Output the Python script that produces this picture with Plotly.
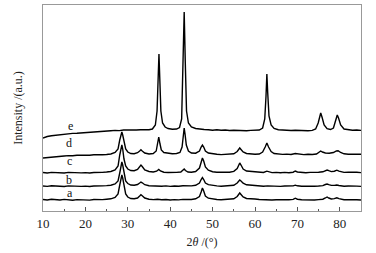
import plotly.graph_objects as go

# XRD patterns a-e, 2theta (deg) vs intensity (a.u., stacked offsets)
curve_a = [(10, 11.5), (11, 11), (12, 11.8), (13, 11.2), (14, 11), (15, 11.6), (16, 11.3), (17, 10.8),
           (18, 11.4), (19, 11), (20, 11.3), (21, 10.9), (22, 11.5), (23, 11.1), (24, 11.4), (25, 11.8),
           (26, 12.2), (27, 13.5), (27.7, 17), (28.1, 26), (28.4, 34), (28.6, 36), (28.8, 33), (29.1, 24),
           (29.5, 17), (30, 14), (30.7, 12.5), (31.5, 12.2), (32.3, 13), (32.8, 15), (33.1, 16.3),
           (33.4, 15.3), (34, 13), (35, 11.8), (36, 11.4), (37, 11.8), (38, 11.2), (39, 11.5), (40, 11),
           (41, 11.4), (42, 11.1), (43, 11.6), (44, 11.2), (45, 11.5), (46, 12.2), (46.9, 14.5), (47.3, 19),
           (47.6, 23), (47.9, 20), (48.3, 15), (49, 12.8), (50, 11.8), (51, 11.5), (52, 11.2), (53, 11.6),
           (54, 11.4), (55, 12.2), (55.8, 14.5), (56.2, 17), (56.4, 18), (56.7, 16.5), (57.2, 14), (58, 12.5),
           (59, 12.4), (59.5, 12.8), (60, 12), (61, 11.5), (62, 11.2), (63, 11.4), (64, 11), (65, 11.3),
           (66, 11), (67, 11.4), (68, 11.2), (69, 11.6), (69.5, 12.8), (70, 11.8), (71, 11.2), (72, 11),
           (73, 11.3), (74, 11), (75, 11.4), (76, 11.8), (76.6, 13), (77, 14), (77.4, 13), (78, 12),
           (78.7, 12.4), (79.3, 13.2), (79.8, 12.4), (80.5, 11.6), (81, 11.2), (82, 11.4), (83, 11),
           (84, 11.3), (85, 11)]

curve_b = [(10, 25), (11, 24.6), (12, 25.2), (13, 24.8), (14, 25), (15, 24.5), (16, 25.1), (17, 24.7),
           (18, 25), (19, 24.6), (20, 24.9), (21, 24.5), (22, 25), (23, 24.7), (24, 25.1), (25, 25.4),
           (26, 25.8), (27, 27), (27.7, 30), (28.1, 38), (28.4, 46), (28.6, 49), (28.8, 46), (29.1, 37),
           (29.5, 30), (30, 27.5), (30.7, 26), (31.5, 25.8), (32.3, 26.5), (32.8, 28), (33.1, 29),
           (33.4, 28.2), (34, 26.3), (35, 25.3), (36, 25), (37, 25.3), (38, 24.8), (39, 25.1), (40, 24.6),
           (41, 25), (42, 24.7), (43, 25.2), (44, 24.8), (45, 25.1), (46, 25.7), (46.9, 28), (47.3, 31.5),
           (47.6, 33.5), (47.9, 31.5), (48.3, 28), (49, 26.3), (50, 25.4), (51, 25.1), (52, 24.8), (53, 25.2),
           (54, 25), (55, 25.7), (55.8, 28), (56.2, 30.3), (56.4, 31), (56.7, 30), (57.2, 27.8), (58, 26.2),
           (59, 25.8), (60, 25.3), (61, 25), (62, 24.7), (63, 25.1), (64, 24.7), (65, 25), (66, 24.6),
           (67, 25), (68, 24.7), (69, 25.1), (69.5, 25.8), (70, 25.2), (71, 24.8), (72, 24.6), (73, 25),
           (74, 24.7), (75, 25), (76, 25.4), (76.6, 26.5), (77, 27), (77.4, 26.4), (78, 25.6), (78.7, 25.6),
           (79.3, 26), (79.8, 25.5), (80.5, 25), (81, 24.8), (82, 25), (83, 24.6), (84, 24.9), (85, 24.6)]

curve_c = [(10, 38.5), (11, 38), (12, 38.6), (13, 38.2), (14, 38.5), (15, 38), (16, 38.6), (17, 38.2),
           (18, 38.5), (19, 38.1), (20, 38.4), (21, 38), (22, 38.5), (23, 38.2), (24, 38.6), (25, 39),
           (26, 39.5), (27, 41), (27.7, 45), (28.1, 56), (28.4, 64), (28.6, 66), (28.8, 62), (29.1, 52),
           (29.5, 45), (30, 42), (30.7, 40.5), (31.5, 40.3), (32.3, 41.5), (32.8, 44), (33.1, 46),
           (33.4, 44.5), (34, 41), (35, 39.5), (36, 39), (36.8, 39.8), (37.3, 41.5), (37.7, 40), (38.5, 38.8),
           (39.5, 38.5), (40.5, 38.3), (41.5, 38.6), (42.5, 39), (43, 40.5), (43.3, 42), (43.6, 40.5),
           (44.2, 39), (45, 38.8), (46, 39.5), (46.9, 43), (47.3, 49), (47.6, 53), (47.9, 50), (48.3, 44),
           (49, 40.8), (50, 39.3), (51, 38.8), (52, 38.5), (53, 38.9), (54, 38.7), (55, 39.6), (55.8, 42.5),
           (56.2, 46.5), (56.4, 48), (56.7, 46), (57.2, 42), (58, 40), (59, 39.5), (59.5, 40), (60, 39.2),
           (61, 38.7), (62, 38.5), (62.8, 39.8), (63.4, 38.9), (64, 38.4), (65, 38.6), (66, 38.2), (67, 38.6),
           (68, 38.3), (69, 38.8), (69.5, 40), (70, 39), (71, 38.5), (72, 38.3), (73, 38.6), (74, 38.3),
           (75, 38.7), (76, 39.2), (76.6, 40.3), (77, 41), (77.4, 40.3), (78, 39.4), (78.7, 39.8),
           (79.3, 40.8), (79.8, 39.8), (80.5, 39), (81, 38.6), (82, 38.8), (83, 38.4), (84, 38.7), (85, 38.4)]

curve_d = [(10, 53), (11, 53.5), (12, 54.2), (13, 54), (14, 54.8), (15, 55), (16, 55.4), (17, 55.2),
           (18, 55.8), (19, 55.6), (20, 56), (21, 55.7), (22, 56.2), (23, 55.9), (24, 56.3), (25, 56.5),
           (26, 57), (27, 58.5), (27.7, 62), (28.1, 71), (28.4, 78), (28.6, 79), (28.8, 76), (29.1, 68),
           (29.5, 62), (30, 59), (30.7, 57.5), (31.5, 57.3), (32.3, 58.3), (32.8, 60), (33.1, 61.2),
           (33.4, 60), (34, 58), (35, 57), (36, 57.5), (36.7, 60), (37, 66), (37.3, 74), (37.6, 67),
           (37.9, 61), (38.5, 58.5), (39.5, 57.5), (40.5, 57.2), (41.5, 57.5), (42.3, 58.5), (42.8, 64),
           (43.1, 76), (43.3, 83), (43.5, 77), (43.8, 66), (44.3, 60), (45, 58), (46, 57.8), (46.9, 60),
           (47.3, 64), (47.6, 66), (47.9, 64), (48.3, 60), (49, 58), (50, 57), (51, 56.7), (52, 56.4),
           (53, 56.8), (54, 56.5), (55, 57.2), (55.8, 59.5), (56.2, 62), (56.4, 63), (56.7, 61.5), (57.2, 59),
           (58, 57.5), (59, 57), (60, 56.8), (61, 57), (61.8, 59), (62.4, 64), (62.8, 68), (63.2, 64),
           (63.8, 59.5), (64.5, 57.5), (65.5, 57), (66.5, 56.6), (67.5, 56.9), (68.5, 56.5), (69.5, 57.5),
           (70.5, 56.7), (71.5, 56.4), (72.5, 56.8), (73.5, 56.5), (74.5, 57), (75.1, 58.5), (75.5, 60),
           (75.9, 59), (76.6, 58), (77.5, 57.8), (78.5, 58.5), (79.2, 60), (79.6, 60.3), (80.2, 58.5),
           (81, 57.2), (82, 56.8), (83, 57), (84, 56.5), (85, 56.8)]

curve_e = [(10, 73), (10.5, 74), (11, 74.5), (12, 75.2), (13, 75.8), (14, 76), (15, 76.8), (16, 77),
           (17, 77.6), (18, 77.8), (19, 78.2), (20, 78.5), (21, 79), (22, 79.1), (23, 79.5), (24, 79.8),
           (25, 80), (26, 80.3), (27, 80.6), (28, 80.4), (29, 81), (30, 80.8), (31, 81.2), (32, 81),
           (33, 81.3), (34, 81), (35, 81.3), (35.8, 82), (36.5, 86), (36.9, 100), (37.2, 140), (37.35, 157),
           (37.5, 138), (37.8, 100), (38.2, 88), (38.8, 84), (39.5, 82.5), (40.5, 81.8), (41.5, 82),
           (42.2, 83.5), (42.7, 92), (43.0, 140), (43.3, 199), (43.55, 150), (43.85, 100), (44.3, 88),
           (45, 84), (46, 82.5), (47, 81.8), (48, 81.5), (49, 81.2), (50, 80.8), (51, 81.2), (52, 80.7),
           (53, 81), (54, 80.5), (55, 80.8), (56, 80.4), (57, 80.7), (58, 80.3), (59, 80.6), (60, 80.5),
           (61, 81), (61.8, 83), (62.3, 92), (62.6, 115), (62.8, 137), (63.0, 118), (63.3, 95), (63.8, 86),
           (64.5, 82.5), (65.5, 81.3), (66.5, 80.8), (67.5, 81), (68.5, 80.5), (69.5, 80.8), (70.5, 80.4),
           (71.5, 80.6), (72.5, 80.3), (73.5, 80.6), (74.3, 82), (74.9, 88), (75.3, 96), (75.5, 98),
           (75.8, 94), (76.3, 86), (77, 82.3), (77.8, 81.5), (78.5, 83), (79, 89), (79.4, 96), (79.7, 93),
           (80.2, 86), (81, 82), (82, 81), (83, 80.7), (84, 81), (85, 80.6)]

curve_names = ["a", "b", "c", "d", "e"]
# label positions (2theta, intensity)
label_x = [16.4, 16.2, 16.2, 16.2, 16.4]
label_y = [18, 31, 50, 68, 85]

SERIF = "Liberation Serif"

fig = go.Figure()
for name, pts in zip(curve_names, [curve_a, curve_b, curve_c, curve_d, curve_e]):
    xs, ys = zip(*pts)
    fig.add_trace(go.Scatter(x=xs, y=ys, mode="lines", name=name,
                             line=dict(color="black", width=1.4), showlegend=False))

for name, lx, ly in zip(curve_names, label_x, label_y):
    fig.add_annotation(x=lx, y=ly, text=name, showarrow=False,
                       font=dict(family=SERIF, size=12, color="#111"))

fig.update_layout(
    width=376, height=253,
    margin=dict(l=43, r=15, t=5, b=42),
    plot_bgcolor="white", paper_bgcolor="white",
    font=dict(family=SERIF, size=12, color="#222"),
    xaxis=dict(
        range=[10, 85], dtick=10, tick0=10,
        ticks="inside", ticklen=4, tickcolor="#555",
        minor=dict(dtick=5, ticks="inside", ticklen=2, tickcolor="#555"),
        showline=True, linecolor="#999", linewidth=1, mirror=True,
        showgrid=False, zeroline=False, automargin=False,
        tickfont=dict(family=SERIF, size=13),
        title=dict(text="2<i>θ</i> /(°)", font=dict(family=SERIF, size=12), standoff=8),
    ),
    yaxis=dict(
        range=[0, 206], showticklabels=False, ticks="",
        showline=True, linecolor="#999", linewidth=1, mirror=True,
        showgrid=False, zeroline=False, automargin=False,
        title=dict(text="Intensity /(a.u.)", font=dict(family=SERIF, size=12), standoff=16),
    ),
)

# drop the browser's default 8px body margin so the figure sits at the page corner
fig.write_html("out.html", config={"displayModeBar": False},
               post_script="document.body.style.margin='0';")
